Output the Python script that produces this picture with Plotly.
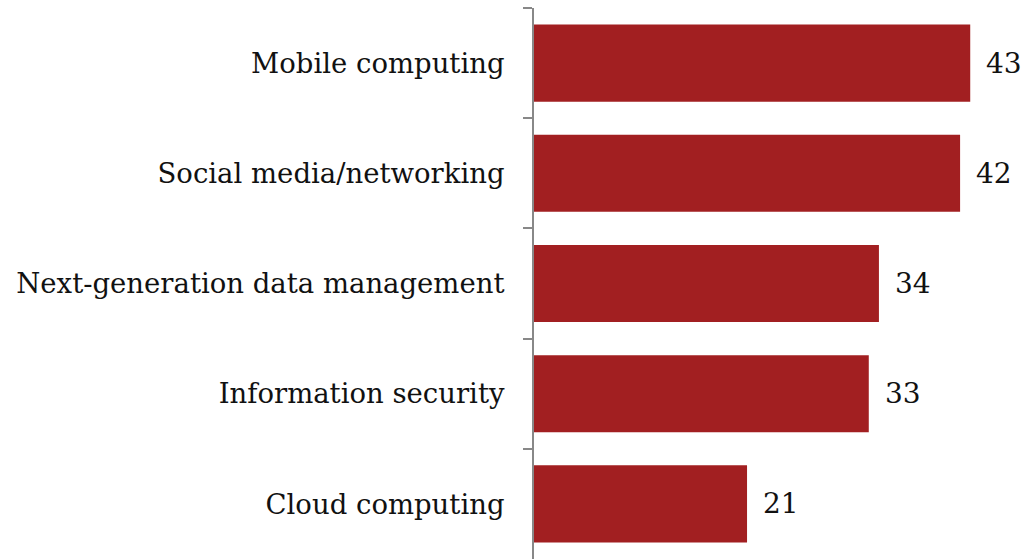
import plotly.graph_objects as go

categories = [
    "Mobile computing",
    "Social media/networking",
    "Next-generation data management",
    "Information security",
    "Cloud computing",
]
values = [43, 42, 34, 33, 21]

BAR_COLOR = "#A21F21"
FONT = "DejaVu Serif"

fig = go.Figure()
fig.add_trace(go.Bar(
    x=values, y=categories, orientation="h",
    marker=dict(color=BAR_COLOR, line=dict(width=0)),
    hoverinfo="x+y",
))

# value labels just right of each bar end
for cat, val in zip(categories, values):
    fig.add_annotation(x=val, y=cat, text=str(val), showarrow=False,
                       xanchor="left", xshift=14,
                       font=dict(family=FONT, size=28, color="#111"))

fig.update_layout(
    width=1024, height=559,
    margin=dict(l=534, r=0, t=8, b=0, autoexpand=False),
    paper_bgcolor="white", plot_bgcolor="white",
    bargap=0.3, showlegend=False,
    font=dict(family=FONT, size=27.5, color="#111"),
)
fig.update_xaxes(range=[0, 48.3], visible=False, automargin=False)
fig.update_yaxes(
    autorange="reversed", showline=True, linecolor="#888", linewidth=2,
    ticks="outside", tickson="boundaries", ticklen=9, tickcolor="#888", tickwidth=2,
    ticklabelstandoff=22, showgrid=False, zeroline=False, automargin=False,
)

# drop the default 8px page margin so the figure fills the window
fig.write_html("out.html", config={"displayModeBar": False},
               post_script="document.body.style.margin='0';"
                           "document.body.style.overflow='hidden';")
